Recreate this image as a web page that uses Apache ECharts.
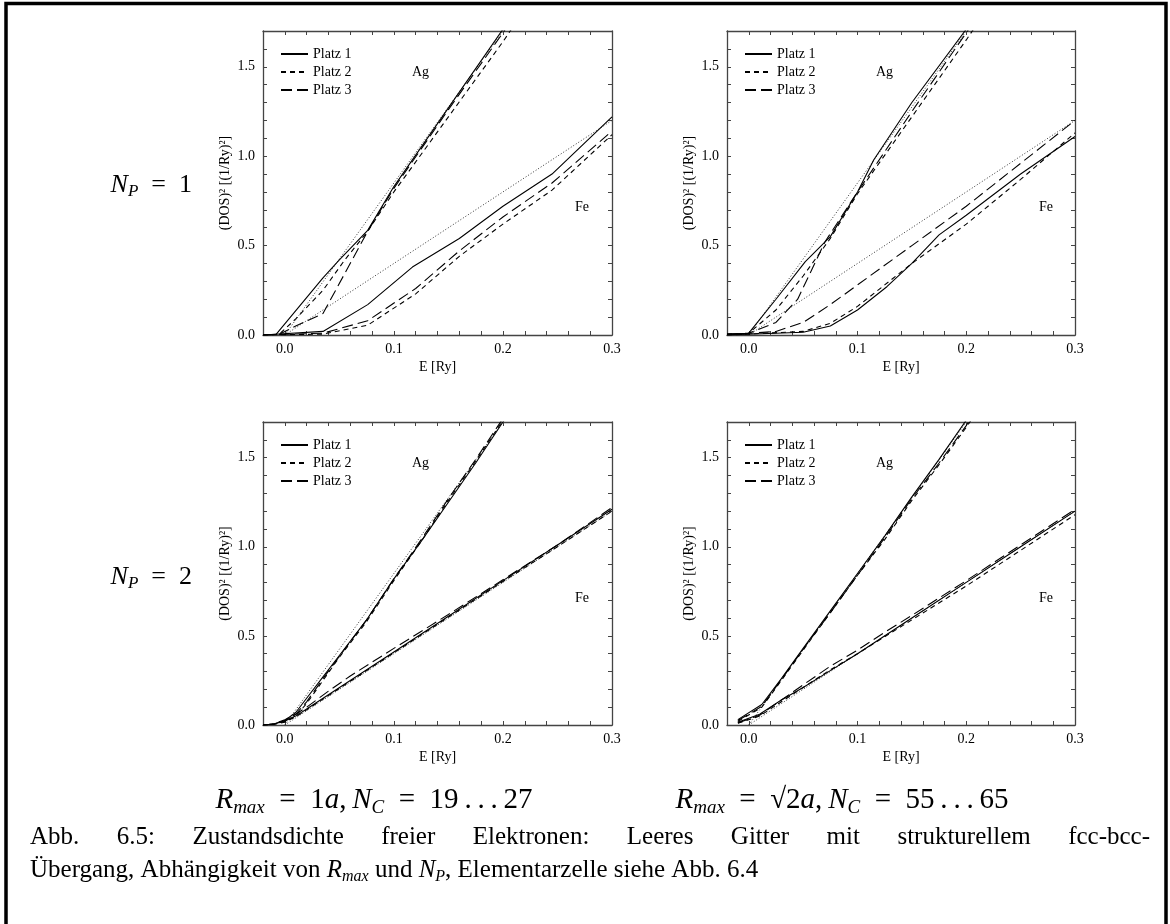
<!DOCTYPE html>
<html>
<head>
<meta charset="utf-8">
<script src="https://cdn.jsdelivr.net/npm/echarts@6/dist/echarts.min.js"></script>
<style>
  html, body { margin: 0; padding: 0; background: #fff; }
  #chart { width: 1170px; height: 924px; }
</style>
</head>
<body>
<div id="chart"></div>
<script>
// axis ticks / labels
const xTicks = [-0.02, 0, 0.02, 0.04, 0.06, 0.08, 0.1, 0.12, 0.14, 0.16, 0.18, 0.2, 0.22, 0.24, 0.26, 0.28, 0.3]
const xLabels = [0, 0.1, 0.2, 0.3]
const yTicks = [0, 0.1, 0.2, 0.3, 0.4, 0.5, 0.6, 0.7, 0.8, 0.9, 1.0, 1.1, 1.2, 1.3, 1.4, 1.5, 1.6, 1.7]
const yLabels = [0, 0.5, 1.0, 1.5]

// free electron reference lines (dotted)
const freeAg = [[0, 0], [0.2, 1.7], [0.21, 1.785]]
const freeFe = [[0, 0], [0.3, 1.2]]

// panel a: N_P = 1, R_max = 1a
const agA1 = [[-0.02, 0], [-0.008, 0.003], [0.035, 0.32], [0.05, 0.42], [0.076, 0.585], [0.1, 0.83], [0.15, 1.27], [0.2, 1.71], [0.21, 1.8]]
const agA2 = [[-0.02, 0], [-0.005, 0.005], [0.01, 0.09], [0.035, 0.25], [0.055, 0.42], [0.076, 0.58], [0.1, 0.8], [0.15, 1.22], [0.2, 1.64], [0.21, 1.73]]
const agA3 = [[-0.02, 0], [-0.005, 0.004], [0.01, 0.05], [0.035, 0.12], [0.076, 0.58], [0.1, 0.82], [0.15, 1.26], [0.2, 1.69], [0.21, 1.78]]
const feA1 = [[-0.02, 0], [0.035, 0.02], [0.076, 0.17], [0.117, 0.38], [0.16, 0.54], [0.2, 0.72], [0.245, 0.9], [0.3, 1.22]]
const feA2 = [[-0.02, 0], [0.035, 0.005], [0.076, 0.055], [0.12, 0.23], [0.16, 0.44], [0.2, 0.62], [0.245, 0.81], [0.3, 1.12]]
const feA3 = [[-0.02, 0], [0.035, 0.01], [0.076, 0.08], [0.12, 0.26], [0.16, 0.47], [0.2, 0.66], [0.245, 0.85], [0.3, 1.14]]

// panel b: N_P = 1, R_max = sqrt(2)a
const agB1 = [[-0.02, 0.005], [0, 0.01], [0.025, 0.2], [0.052, 0.41], [0.075, 0.55], [0.1, 0.8], [0.115, 0.98], [0.15, 1.3], [0.2, 1.71], [0.21, 1.8]]
const agB2 = [[-0.02, 0.005], [0, 0.01], [0.025, 0.14], [0.05, 0.33], [0.075, 0.54], [0.1, 0.79], [0.15, 1.22], [0.2, 1.65], [0.21, 1.74]]
const agB3 = [[-0.02, 0.005], [0, 0.01], [0.025, 0.07], [0.045, 0.2], [0.07, 0.52], [0.1, 0.8], [0.15, 1.25], [0.2, 1.69], [0.21, 1.78]]
const feB1 = [[-0.02, 0], [0.05, 0.015], [0.075, 0.05], [0.1, 0.14], [0.127, 0.27], [0.15, 0.4], [0.175, 0.56], [0.2, 0.67], [0.25, 0.9], [0.3, 1.11]]
const feB2 = [[-0.02, 0], [0.05, 0.02], [0.075, 0.065], [0.1, 0.16], [0.125, 0.28], [0.15, 0.4], [0.175, 0.51], [0.2, 0.62], [0.25, 0.87], [0.3, 1.13]]
const feB3 = [[-0.02, 0], [0.025, 0.02], [0.05, 0.07], [0.075, 0.17], [0.1, 0.28], [0.15, 0.5], [0.2, 0.72], [0.25, 0.96], [0.3, 1.2]]

// panel c: N_P = 2, R_max = 1a
const agC1 = [[-0.02, 0], [-0.01, 0.005], [0, 0.025], [0.01, 0.07], [0.02, 0.15], [0.035, 0.27], [0.05, 0.39], [0.075, 0.59], [0.1, 0.82], [0.125, 1.03], [0.15, 1.25], [0.175, 1.47], [0.2, 1.7], [0.21, 1.79]]
const agC2 = [[-0.02, 0], [-0.01, 0.004], [0, 0.015], [0.01, 0.05], [0.02, 0.12], [0.035, 0.25], [0.05, 0.38], [0.075, 0.58], [0.1, 0.81], [0.125, 1.03], [0.15, 1.26], [0.175, 1.48], [0.2, 1.71], [0.21, 1.8]]
const agC3 = [[-0.02, 0], [-0.01, 0.006], [0, 0.02], [0.01, 0.06], [0.02, 0.13], [0.035, 0.26], [0.05, 0.385], [0.075, 0.59], [0.1, 0.82], [0.125, 1.04], [0.15, 1.27], [0.175, 1.49], [0.2, 1.72], [0.21, 1.81]]
const feC1 = [[-0.02, 0], [-0.01, 0.006], [0, 0.025], [0.01, 0.05], [0.02, 0.09], [0.04, 0.17], [0.06, 0.25], [0.1, 0.41], [0.15, 0.61], [0.2, 0.81], [0.25, 1.01], [0.3, 1.21]]
const feC2 = [[-0.02, 0], [-0.01, 0.004], [0, 0.02], [0.01, 0.045], [0.02, 0.085], [0.04, 0.165], [0.06, 0.245], [0.1, 0.405], [0.15, 0.605], [0.2, 0.805], [0.25, 1.0], [0.3, 1.2]]
const feC3 = [[-0.02, 0], [-0.01, 0.006], [0, 0.03], [0.01, 0.06], [0.02, 0.1], [0.04, 0.19], [0.06, 0.275], [0.1, 0.43], [0.15, 0.62], [0.2, 0.815], [0.25, 1.01], [0.3, 1.22]]

// panel d: N_P = 2, R_max = sqrt(2)a
const agD1 = [[-0.01, 0.03], [0.012, 0.115], [0.03, 0.26], [0.05, 0.43], [0.075, 0.64], [0.1, 0.85], [0.125, 1.06], [0.15, 1.28], [0.175, 1.49], [0.2, 1.71], [0.21, 1.8]]
const agD2 = [[-0.01, 0.02], [0.012, 0.1], [0.03, 0.25], [0.05, 0.42], [0.075, 0.63], [0.1, 0.84], [0.125, 1.04], [0.15, 1.26], [0.175, 1.46], [0.2, 1.67], [0.21, 1.76]]
const agD3 = [[-0.01, 0.025], [0.012, 0.105], [0.03, 0.255], [0.05, 0.425], [0.075, 0.63], [0.1, 0.84], [0.125, 1.05], [0.15, 1.27], [0.175, 1.47], [0.2, 1.68], [0.21, 1.77]]
const feD1 = [[-0.01, 0.015], [0.01, 0.06], [0.03, 0.14], [0.05, 0.21], [0.075, 0.305], [0.1, 0.4], [0.15, 0.6], [0.2, 0.8], [0.25, 1.0], [0.3, 1.2]]
const feD2 = [[-0.01, 0.01], [0.01, 0.05], [0.03, 0.13], [0.05, 0.21], [0.075, 0.31], [0.1, 0.4], [0.15, 0.59], [0.2, 0.78], [0.25, 0.98], [0.3, 1.18]]
const feD3 = [[-0.01, 0.012], [0.01, 0.055], [0.03, 0.14], [0.05, 0.225], [0.075, 0.33], [0.1, 0.42], [0.125, 0.52], [0.15, 0.615], [0.2, 0.81], [0.25, 1.01], [0.3, 1.21]]

const platzNames = ['Platz 1', 'Platz 2', 'Platz 3']
const captionLine1 = 'Abb. 6.5: Zustandsdichte freier Elektronen: Leeres Gitter mit strukturellem fcc-bcc-'

const SERIF = '"Liberation Serif", "Times New Roman", serif'
const AXIS_COLOR = '#444'
const dashes = ['solid', [5, 4], [11, 5]]

const panels = [
  { left: 263, top: 31, width: 349, height: 304, ag: [agA1, agA2, agA3], fe: [feA1, feA2, feA3] },
  { left: 727, top: 31, width: 348, height: 304, ag: [agB1, agB2, agB3], fe: [feB1, feB2, feB3] },
  { left: 263, top: 422, width: 349, height: 303, ag: [agC1, agC2, agC3], fe: [feC1, feC2, feC3] },
  { left: 727, top: 422, width: 348, height: 303, ag: [agD1, agD2, agD3], fe: [feD1, feD2, feD3] }
]

const chart = echarts.init(document.getElementById('chart'))

const grid = []
const xAxis = []
const yAxis = []
const series = []
const legend = []
const graphic = []

const axisLine = { show: true, onZero: false, lineStyle: { color: AXIS_COLOR, width: 1.3 } }
const tickStyle = { color: AXIS_COLOR, width: 1 }
const labelFont = { color: '#000', fontFamily: SERIF, fontSize: 14 }

panels.forEach((p, g) => {
  grid.push({ left: p.left, top: p.top, width: p.width, height: p.height, containLabel: false })

  xAxis.push({
    gridIndex: g, type: 'value', min: -0.02, max: 0.3, position: 'bottom',
    axisLine, splitLine: { show: false },
    axisTick: { inside: true, length: 4, customValues: xTicks, lineStyle: tickStyle },
    axisLabel: Object.assign({ customValues: xLabels, margin: 7, formatter: v => v.toFixed(1) }, labelFont),
    name: 'E [Ry]', nameLocation: 'middle', nameGap: 25,
    nameTextStyle: { color: '#000', fontFamily: SERIF, fontSize: 14 }
  })
  xAxis.push({
    gridIndex: g, type: 'value', min: -0.02, max: 0.3, position: 'top',
    axisLine, splitLine: { show: false },
    axisTick: { inside: true, length: 4, customValues: xTicks, lineStyle: tickStyle },
    axisLabel: { show: false }
  })
  yAxis.push({
    gridIndex: g, type: 'value', min: 0, max: 1.7, position: 'left',
    axisLine, splitLine: { show: false },
    axisTick: { inside: true, length: 4, customValues: yTicks, lineStyle: tickStyle },
    axisLabel: Object.assign({ customValues: yLabels, margin: 8, formatter: v => v.toFixed(1) }, labelFont),
    name: '(DOS)² [(1/Ry)²]', nameLocation: 'middle', nameRotate: 90, nameGap: 31,
    nameTextStyle: { color: '#000', fontFamily: SERIF, fontSize: 14 }
  })
  yAxis.push({
    gridIndex: g, type: 'value', min: 0, max: 1.7, position: 'right',
    axisLine, splitLine: { show: false },
    axisTick: { inside: true, length: 4, customValues: yTicks, lineStyle: tickStyle },
    axisLabel: { show: false }
  })

  const base = { type: 'line', xAxisIndex: 2 * g, yAxisIndex: 2 * g, symbol: 'none', silent: true, clip: true, color: '#000' }
  series.push(Object.assign({ name: 'frei Ag', data: freeAg, lineStyle: { color: '#333', width: 1, type: [1, 2] } }, base))
  series.push(Object.assign({ name: 'frei Fe', data: freeFe, lineStyle: { color: '#333', width: 1, type: [1, 2] } }, base))
  for (let i = 0; i < 3; i++) {
    series.push(Object.assign({ name: platzNames[i], data: p.ag[i], lineStyle: { color: '#000', width: 1.1, type: dashes[i] } }, base))
    series.push(Object.assign({ name: platzNames[i], data: p.fe[i], lineStyle: { color: '#000', width: 1.1, type: dashes[i] } }, base))
  }

  legend.push({
    data: platzNames, orient: 'vertical', left: p.left + 12, top: p.top + 11,
    itemWidth: 27, itemHeight: 10, itemGap: 4, selectedMode: false,
    itemStyle: { opacity: 0 },
    textStyle: { color: '#000', fontFamily: SERIF, fontSize: 14, lineHeight: 14 }
  })

  graphic.push({ type: 'text', x: p.left + 149, y: p.top + 41, style: { text: 'Ag', font: '14px ' + SERIF, fill: '#000', verticalAlign: 'middle' } })
  graphic.push({ type: 'text', x: p.left + 312, y: p.top + 176, style: { text: 'Fe', font: '14px ' + SERIF, fill: '#000', verticalAlign: 'middle' } })
})

// math-style rich text pieces
const mathRich = {
  i: { fontFamily: SERIF, fontStyle: 'italic', fontSize: 29, lineHeight: 34, verticalAlign: 'middle' },
  s: { fontFamily: SERIF, fontStyle: 'italic', fontSize: 19, lineHeight: 16, verticalAlign: 'bottom' },
  r: { fontFamily: SERIF, fontSize: 29, lineHeight: 34, verticalAlign: 'middle' }
}
const npRich = {
  i: { fontFamily: SERIF, fontStyle: 'italic', fontSize: 26, lineHeight: 30, verticalAlign: 'middle' },
  s: { fontFamily: SERIF, fontStyle: 'italic', fontSize: 17, lineHeight: 14, verticalAlign: 'bottom' },
  r: { fontFamily: SERIF, fontSize: 26, lineHeight: 30, verticalAlign: 'middle' }
}

graphic.push({ type: 'text', x: 192, y: 185, style: { text: '{i|N}{s|P}{r|\u2002=\u20021}', rich: npRich, align: 'right', verticalAlign: 'middle', fill: '#000' } })
graphic.push({ type: 'text', x: 192, y: 577, style: { text: '{i|N}{s|P}{r|\u2002=\u20022}', rich: npRich, align: 'right', verticalAlign: 'middle', fill: '#000' } })

graphic.push({ type: 'text', x: 374, y: 800, style: { text: '{i|R}{s|max}{r|\u2002=\u20021}{i|a}{r|,\u2009}{i|N}{s|C}{r|\u2002=\u200219\u2009.\u2009.\u2009.\u200927}', rich: mathRich, align: 'center', verticalAlign: 'middle', fill: '#000' } })
graphic.push({ type: 'text', x: 842, y: 800, style: { text: '{i|R}{s|max}{r|\u2002=\u2002√2}{i|a}{r|,\u2009}{i|N}{s|C}{r|\u2002=\u200255\u2009.\u2009.\u2009.\u200965}', rich: mathRich, align: 'center', verticalAlign: 'middle', fill: '#000' } })

// caption line 1, justified between x = 30 and x = 1150
const capFont = '25px "Liberation Serif"'
const ctx = document.createElement('canvas').getContext('2d')
ctx.font = capFont
const words = captionLine1.split(' ')
const wordW = words.map(w => ctx.measureText(w).width)
const gap = (1150 - 30 - wordW.reduce((a, b) => a + b, 0)) / (words.length - 1)
let cx = 30
words.forEach((w, i) => {
  graphic.push({ type: 'text', x: cx, y: 837, style: { text: w, font: capFont, fill: '#000', verticalAlign: 'middle' } })
  cx += wordW[i] + gap
})

graphic.push({
  type: 'text', x: 30, y: 870,
  style: {
    text: 'Übergang, Abhängigkeit von {i|R}{s|max}{r| und }{i|N}{s|P}{r|, Elementarzelle siehe Abb. 6.4}',
    rich: {
      i: { fontFamily: SERIF, fontStyle: 'italic', fontSize: 25, lineHeight: 30, verticalAlign: 'middle' },
      s: { fontFamily: SERIF, fontStyle: 'italic', fontSize: 16, lineHeight: 14, verticalAlign: 'bottom' },
      r: { fontFamily: SERIF, fontSize: 25, lineHeight: 30, verticalAlign: 'middle' }
    },
    font: capFont, lineHeight: 30, fill: '#000', verticalAlign: 'middle'
  }
})

// outer frame
graphic.push({ type: 'rect', shape: { x: 6, y: 3.5, width: 1160, height: 940 }, style: { fill: 'none', stroke: '#000', lineWidth: 3.5 }, silent: true })

chart.setOption({
  animation: false,
  backgroundColor: '#fff',
  grid, xAxis, yAxis, series, legend, graphic
})
</script>
</body>
</html>
